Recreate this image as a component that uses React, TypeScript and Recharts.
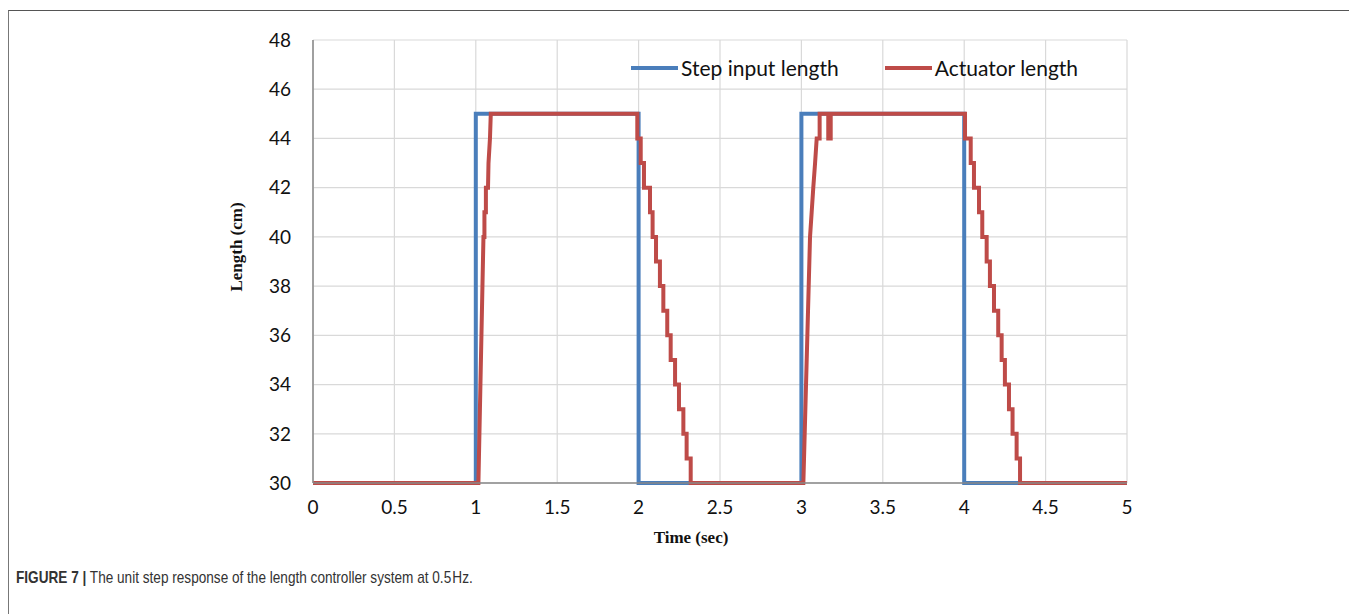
import { CartesianGrid, Legend, Line, LineChart, XAxis, YAxis } from 'recharts';

// Step input (square wave at 0.5 Hz)
const stepTime = [0, 1, 1, 2, 2, 3, 3, 4, 4, 5];
const stepLength = [30, 30, 45, 45, 30, 30, 45, 45, 30, 30];

// Actuator response
const actuatorTime = [
  0, 1.016, 1.047, 1.053, 1.053, 1.062, 1.062, 1.075, 1.078, 1.087, 1.092,
  1.992, 1.992, 2.013, 2.013, 2.033, 2.033, 2.07, 2.07, 2.086, 2.086,
  2.107, 2.107, 2.131, 2.131, 2.152, 2.152, 2.176, 2.176, 2.197, 2.197,
  2.224, 2.224, 2.248, 2.248, 2.275, 2.275, 2.295, 2.295, 2.32, 2.32,
  3.012, 3.053, 3.063, 3.073, 3.084, 3.094, 3.112, 3.112, 3.165, 3.165, 3.18, 3.18,
  4.005, 4.005, 4.04, 4.04, 4.06, 4.06, 4.091, 4.091, 4.111, 4.111,
  4.138, 4.138, 4.158, 4.158, 4.183, 4.183, 4.209, 4.209, 4.23, 4.23,
  4.25, 4.25, 4.275, 4.275, 4.297, 4.297, 4.322, 4.322, 4.343, 4.343, 5,
];
const actuatorLength = [
  30, 30, 40, 40, 41, 41, 42, 42, 43, 44, 45,
  45, 44, 44, 43, 43, 42, 42, 41, 41, 40,
  40, 39, 39, 38, 38, 37, 37, 36, 36, 35,
  35, 34, 34, 33, 33, 32, 32, 31, 31, 30,
  30, 40, 41, 42, 43, 44, 44, 45, 45, 44, 44, 45,
  45, 44, 44, 43, 43, 42, 42, 41, 41, 40,
  40, 39, 39, 38, 38, 37, 37, 36, 36, 35,
  35, 34, 34, 33, 33, 32, 32, 31, 31, 30, 30,
];

const seriesNames = ['Step input length', 'Actuator length'];
const xTicks = [0, 0.5, 1, 1.5, 2, 2.5, 3, 3.5, 4, 4.5, 5];
const yTicks = [30, 32, 34, 36, 38, 40, 42, 44, 46, 48];

const stepData = stepTime.map((t, i) => ({ t, v: stepLength[i] }));
const actuatorData = actuatorTime.map((t, i) => ({ t, v: actuatorLength[i] }));

const BLUE = '#4A7EBB';
const RED = '#BE4B48';
const tickFont = { fontSize: 19, fill: '#111', fontFamily: 'Lato, sans-serif' };

function renderLegend(props: any) {
  const items = [...(props.payload || [])].sort(
    (a: any, b: any) => seriesNames.indexOf(a.value) - seriesNames.indexOf(b.value)
  );
  return (
    <div style={{ display: 'flex', alignItems: 'center', fontFamily: 'Lato, sans-serif', fontSize: 21, color: '#111' }}>
      {items.map((it: any, i: number) => (
        <div key={i} style={{ display: 'flex', alignItems: 'center', marginRight: i === 0 ? 46 : 0 }}>
          <span style={{ display: 'inline-block', width: 47, height: 4, background: it.color, marginRight: 3 }} />
          <span>{it.value}</span>
        </div>
      ))}
    </div>
  );
}

export default function App() {
  return (
    <div
      style={{
        position: 'relative',
        top: 2,
        width: 1346,
        height: 620,
        borderTop: '1px solid #555',
        borderLeft: '1px solid #777',
        borderRight: '2px solid #888',
        background: '#fff',
      }}
    >
      <div style={{ position: 'absolute', left: 0, top: 0 }}>
        <LineChart width={1340} height={560} margin={{ top: 29, right: 222, left: 244, bottom: 48 }}>
          <CartesianGrid stroke="#d9d9d9" strokeWidth={1.2} />
          <XAxis
            type="number"
            dataKey="t"
            domain={[0, 5]}
            ticks={xTicks}
            height={40}
            tick={tickFont}
            tickLine={false}
            tickMargin={12}
            axisLine={{ stroke: '#888', strokeWidth: 1.5 }}
          />
          <YAxis
            type="number"
            dataKey="v"
            domain={[30, 48]}
            ticks={yTicks}
            width={60}
            tick={tickFont}
            tickLine={false}
            tickMargin={16}
            axisLine={{ stroke: '#888', strokeWidth: 1.5 }}
          />
          <Legend
            layout="horizontal"
            verticalAlign="middle"
            align="center"
            content={renderLegend}
            wrapperStyle={{ left: 622, top: 44, width: 'auto' }}
          />
          <Line
            data={stepData}
            dataKey="v"
            name={seriesNames[0]}
            type="linear"
            stroke={BLUE}
            strokeWidth={4}
            dot={false}
            activeDot={false}
            isAnimationActive={false}
          />
          <Line
            data={actuatorData}
            dataKey="v"
            name={seriesNames[1]}
            type="linear"
            stroke={RED}
            strokeWidth={4}
            dot={false}
            activeDot={false}
            isAnimationActive={false}
          />
        </LineChart>
      </div>
      <div
        style={{
          position: 'absolute',
          left: 228,
          top: 236,
          transform: 'translate(-50%, -50%) rotate(-90deg)',
          fontFamily: '"Liberation Serif", serif',
          fontWeight: 'bold',
          fontSize: 17,
          whiteSpace: 'nowrap',
          color: '#111',
        }}
      >
        Length (cm)
      </div>
      <div
        style={{
          position: 'absolute',
          left: 682,
          top: 527,
          transform: 'translate(-50%, -50%)',
          fontFamily: '"Liberation Serif", serif',
          fontWeight: 'bold',
          fontSize: 17,
          whiteSpace: 'nowrap',
          color: '#111',
        }}
      >
        Time (sec)
      </div>
      <div
        style={{
          position: 'absolute',
          left: 7,
          top: 557,
          fontFamily: '"Liberation Sans", Arial, sans-serif',
          fontSize: 17,
          color: '#333',
          whiteSpace: 'nowrap',
          transform: 'scaleX(0.8)',
          transformOrigin: 'left center',
        }}
      >
        <span style={{ fontWeight: 'bold' }}>FIGURE 7 |</span> The unit step response of the length controller system at 0.5&#8202;Hz.
      </div>
    </div>
  );
}
